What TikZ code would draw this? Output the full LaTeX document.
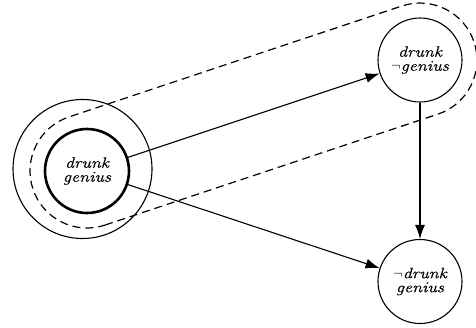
\documentclass[tikz,border=0pt]{standalone}
\usepackage{fontspec}
\setmainfont{Latin Modern Roman}
\newfontfamily\lblfont{Latin Modern Roman}[FakeStretch=1.2,FakeBold=0.4]
\usetikzlibrary{arrows.meta}
\begin{document}
\begin{tikzpicture}[x=1pt,y=-1pt,
  state/.style={circle,draw,line width=1.1pt,minimum size=84pt,inner sep=0pt,align=center,
    font=\lblfont\fontsize{15}{14}\selectfont\itshape},
  ring/.style={circle,draw,line width=1.1pt,minimum size=139pt,inner sep=0pt},
  arr/.style={-{Latex[length=14pt,width=10pt]},line width=1.1pt},
  hull/.style={draw,line width=1.2pt,dash pattern=on 8pt off 5pt}]
\useasboundingbox (0,0) rectangle (476,327);
\node[state,line width=2.6pt] (dg) at (87,171) {drunk\\genius};
\node[state] (dng) at (420,60) {drunk\\$\neg$genius};
\node[state] (ndg) at (420,281.5) {$\neg$drunk\\genius};
\node[ring] (outer) at (82.5,169) {};
\begin{scope}[shift={(87,171)},rotate=18.43,y=1pt]
  \path[hull] (0,-57) -- (351,-57) arc[start angle=-90,end angle=90,radius=57]
    -- (0,57) arc[start angle=90,end angle=270,radius=57] -- cycle;
\end{scope}
\draw[arr] (dg) -- (dng);
\draw[arr] (dg) -- (ndg);
\draw[arr] (dng) -- (ndg);
\end{tikzpicture}
\end{document}
